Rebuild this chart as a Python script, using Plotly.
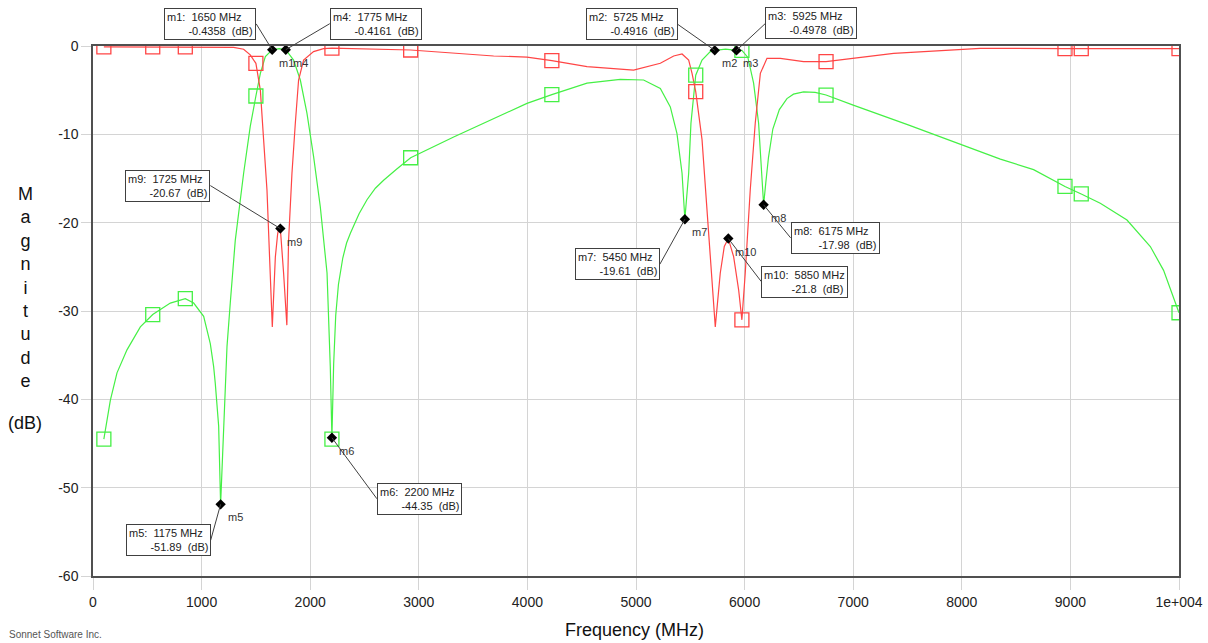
import plotly.graph_objects as go

# ---------------- data ----------------
# Green trace (transmission)
s21_freq = [100, 160, 221, 313, 436, 550, 712, 850, 927, 1019, 1080, 1111, 1126, 1157, 1175,
            1203, 1234, 1264, 1310, 1387, 1448, 1500, 1541, 1587, 1650, 1715, 1775, 1847, 1909,
            1970, 2031, 2093, 2155, 2185, 2200, 2216, 2235, 2260, 2300, 2335, 2370, 2450, 2523,
            2600, 2676, 2800, 2925, 3321, 3689, 3996, 4225, 4549, 4855, 5070, 5224, 5316, 5377,
            5424, 5450, 5485, 5506, 5550, 5608, 5684, 5725, 5825, 5925, 5975, 6030, 6083, 6129,
            6160, 6175, 6195, 6220, 6260, 6320, 6390, 6450, 6543, 6650, 6750, 7000, 7500, 8000,
            8355, 8661, 8950, 9100, 9275, 9521, 9736, 9858, 10000]
s21_db = [-44.5, -40.1, -37.0, -34.4, -31.8, -30.4, -29.1, -28.6, -29.1, -30.6, -33.7, -36.3, -38.2,
          -43.0, -51.89, -43.1, -34.0, -29.1, -22.0, -14.4, -9.1, -5.66, -3.1, -1.2, -0.4358, -0.3,
          -0.4161, -1.6, -3.85, -7.6, -12.5, -18.2, -25.7, -36.3, -44.35, -36.0, -30.5, -27.0,
          -24.0, -22.3, -21.2, -19.0, -17.4, -16.1, -15.2, -13.9, -12.65, -10.3, -8.2, -6.5, -5.5,
          -4.2, -3.77, -3.85, -4.8, -6.9, -9.9, -14.4, -19.61, -14.4, -8.75, -3.3, -1.6, -0.64,
          -0.4916, -0.35, -0.4978, -0.5, -1.3, -4.2, -8.75, -14.4, -17.98, -15.5, -12.6, -9.4,
          -7.2, -5.95, -5.45, -5.2, -5.25, -5.55, -6.7, -8.9, -11.2, -12.8, -14.0, -15.9, -16.75,
          -17.8, -19.7, -22.7, -25.4, -30.2]

# Red trace (reflection)
s11_freq = [100, 550, 850, 1142, 1295, 1387, 1448, 1500, 1525, 1541, 1571, 1602, 1626, 1651, 1679,
            1700, 1715, 1725, 1755, 1785, 1801, 1832, 1863, 1893, 1939, 2031, 2123, 2200, 2925, 3321,
            3689, 3996, 4225, 4549, 4978, 5224, 5347, 5424, 5485, 5516, 5550, 5608, 5654, 5700, 5730,
            5776, 5813, 5850, 5899, 5945, 5975, 6006, 6052, 6098, 6145, 6206, 6329, 6543, 6750, 7372,
            8170, 8950, 9100, 10000]
s11_db = [-0.1, -0.1, -0.1, -0.08, -0.15, -0.37, -1.0, -1.96, -3.85, -5.0, -10.6, -16.3, -23.9, -31.8,
          -23.9, -21.3, -20.4, -20.67, -25.7, -31.6, -22.0, -14.4, -8.75, -3.85, -1.6, -0.64, -0.3,
          -0.25, -0.45, -0.83, -1.13, -1.25, -1.66, -2.34, -2.72, -1.96, -1.13, -0.9, -1.6, -3.1,
          -5.17, -10.6, -18.2, -25.7, -31.8, -25.7, -22.7, -21.8, -23.85, -27.6, -31.0, -25.7, -16.3,
          -8.75, -3.1, -1.4, -1.4, -1.77, -1.77, -0.83, -0.26, -0.3, -0.3, -0.3]

# Simulated frequency points (square symbols)
sample_freq = [100, 550, 850, 1500, 2200, 2925, 4225, 5550, 5975, 6750, 8950, 9100, 10000]
sample_s11 = [-0.1, -0.1, -0.1, -1.96, -0.25, -0.45, -1.66, -5.17, -31.0, -1.77, -0.3, -0.3, -0.3]
sample_s21 = [-44.5, -30.4, -28.6, -5.66, -44.5, -12.65, -5.5, -3.3, -0.5, -5.55, -15.9, -16.75, -30.2]

# Markers
marker_names = ["m1", "m2", "m3", "m4", "m5", "m6", "m7", "m8", "m9", "m10"]
marker_freq = [1650, 5725, 5925, 1775, 1175, 2200, 5450, 6175, 1725, 5850]
marker_db = [-0.4358, -0.4916, -0.4978, -0.4161, -51.89, -44.35, -19.61, -17.98, -20.67, -21.8]

x_tickvals = [0, 1000, 2000, 3000, 4000, 5000, 6000, 7000, 8000, 9000, 10000]
x_ticktext = ["0", "1000", "2000", "3000", "4000", "5000", "6000", "7000", "8000", "9000", "1e+004"]
y_tickvals = [0, -10, -20, -30, -40, -50, -60]
y_ticktext = ["0", "-10", "-20", "-30", "-40", "-50", "-60"]

# ---------------- styling ----------------
RED = "#ff4545"
GREEN = "#45f045"
FONT = "Liberation Sans, Arial, sans-serif"
GRID = "#d4d4d4"
AXIS = "#505050"

# box placement: (dx, dy, side, indent) in pixels of the box side-midpoint relative to marker
box_style = {
    "m1": (-16, -26, "right", 7),
    "m2": (-37, -26, "right", 7),
    "m3": (29, -27, "left", 7),
    "m4": (44, -26, "left", 7),
    "m5": (-10, 36, "right", 7),
    "m6": (45, 61, "left", 7),
    "m7": (-25, 45, "right", 7),
    "m8": (27, 33, "left", 8),
    "m9": (-70, -43, "right", 7),
    "m10": (33, 43, "left", 9),
}

fig = go.Figure()

fig.add_trace(go.Scatter(x=s21_freq, y=s21_db, mode="lines",
                         line=dict(color=GREEN, width=1.2), showlegend=False, hoverinfo="skip"))
fig.add_trace(go.Scatter(x=s11_freq, y=s11_db, mode="lines",
                         line=dict(color=RED, width=1.2), showlegend=False, hoverinfo="skip"))
fig.add_trace(go.Scatter(x=sample_freq, y=sample_s21, mode="markers",
                         marker=dict(symbol="square-open", size=14, color=GREEN, line=dict(width=1.3)),
                         showlegend=False, hoverinfo="skip"))
fig.add_trace(go.Scatter(x=sample_freq, y=sample_s11, mode="markers",
                         marker=dict(symbol="square-open", size=14, color=RED, line=dict(width=1.3)),
                         showlegend=False, hoverinfo="skip"))
fig.add_trace(go.Scatter(x=marker_freq, y=marker_db, mode="markers", cliponaxis=False,
                         marker=dict(symbol="diamond", size=8, color="black"),
                         showlegend=False, hoverinfo="skip"))

annotations = []
NB = "\u00a0"
for name, f, v in zip(marker_names, marker_freq, marker_db):
    dx, dy, side, indent = box_style[name]
    text = f"{name}:{NB} {f} MHz<br>{NB * indent}{v}{NB} (dB)"
    # leader line
    annotations.append(dict(
        x=f, y=v, xref="x", yref="y", text=" ", showarrow=True, arrowhead=0,
        arrowwidth=1, arrowcolor="#404040", standoff=0, ax=dx, ay=dy,
        font=dict(size=1), borderpad=0, borderwidth=0))
    # value box
    annotations.append(dict(
        x=f, y=v, xref="x", yref="y", text=text, align="left", showarrow=False,
        xanchor=side, yanchor="middle", xshift=dx, yshift=-dy,
        bordercolor="#404040", borderwidth=1, borderpad=2, bgcolor="white",
        font=dict(family=FONT, size=11, color="#222222")))
    # marker name
    annotations.append(dict(
        x=f, y=v, xref="x", yref="y", text=name, showarrow=False,
        xanchor="left", yanchor="middle", xshift=5, yshift=-13,
        font=dict(family=FONT, size=11, color="#333333")))

annotations.append(dict(x=-0.0626, y=0.5443, xref="paper", yref="paper",
                        text="<br>".join(list("Magnitude")), showarrow=False,
                        xanchor="center", yanchor="middle", align="center",
                        font=dict(family=FONT, size=18, color="#111111")))
annotations.append(dict(x=-0.0626, y=0.2887, xref="paper", yref="paper", text="(dB)",
                        showarrow=False, xanchor="center", yanchor="middle",
                        font=dict(family=FONT, size=18, color="#111111")))
annotations.append(dict(x=0.499, y=-0.102, xref="paper", yref="paper", text="Frequency (MHz)",
                        showarrow=False, xanchor="center", yanchor="middle",
                        font=dict(family=FONT, size=18, color="#111111")))
annotations.append(dict(x=-0.0795, y=-0.11, xref="paper", yref="paper", text="Sonnet Software Inc.",
                        showarrow=False, xanchor="left", yanchor="middle",
                        font=dict(family=FONT, size=10, color="#555555")))

fig.update_layout(
    width=1208, height=643, autosize=False,
    margin=dict(l=93, r=29, t=46, b=67, pad=0, autoexpand=False),
    paper_bgcolor="white", plot_bgcolor="white",
    font=dict(family=FONT, size=14, color="#222222"),
    annotations=annotations,
    xaxis=dict(range=[0, 10000], tickvals=x_tickvals, ticktext=x_ticktext, automargin=False,
               showgrid=True, gridcolor=GRID, gridwidth=1, zeroline=False,
               showline=True, linecolor=AXIS, linewidth=1.5, mirror=True,
               ticks="outside", ticklen=12, tickcolor=GRID, tickwidth=1,
               tickfont=dict(family=FONT, size=14, color="#222222")),
    yaxis=dict(range=[-60, 0], tickvals=y_tickvals, ticktext=y_ticktext, automargin=False,
               showgrid=True, gridcolor=GRID, gridwidth=1, zeroline=False,
               showline=True, linecolor=AXIS, linewidth=1.5, mirror=True,
               ticks="outside", ticklen=10, tickcolor=GRID, tickwidth=1,
               tickfont=dict(family=FONT, size=14, color="#222222")),
)

fig.write_html("out.html",
               config={"displayModeBar": False, "responsive": False},
               post_script="document.body.style.margin='0';document.body.style.overflow='hidden';")
